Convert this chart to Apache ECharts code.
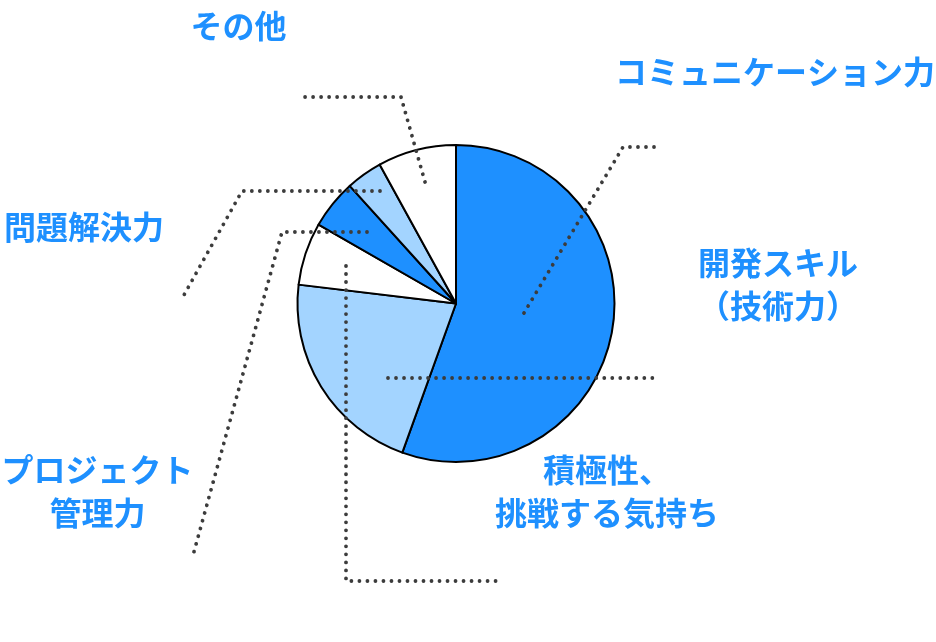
<!DOCTYPE html>
<html>
<head>
<meta charset="utf-8">
<script src="https://cdn.jsdelivr.net/npm/echarts@6/dist/echarts.min.js"></script>
<style>
  html, body { margin: 0; padding: 0; background: #ffffff; }
  #chart { width: 936px; height: 642px; }
</style>
</head>
<body>
<div id="chart"></div>
<script>
// ---- data ----
const categories = [
  'コミュニケーション力',
  '開発スキル\n（技術力）',
  '積極性、\n挑戦する気持ち',
  'プロジェクト\n管理力',
  '問題解決力',
  'その他'
];
const values = [55.5, 21.4, 6.4, 5.0, 3.7, 8.0];

// ---- layout (label centres and leader-line paths, in px) ----
const labelCenters = [
  [775, 72],
  [778, 284],
  [607, 491],
  [97.5, 491],
  [84, 227],
  [238.5, 26]
];
const leaderPaths = [
  [[524, 313], [623, 147], [656, 147]],
  [[388, 378], [400, 378], [655, 378]],
  [[346, 266], [346, 581], [503, 581]],
  [[367, 232], [282, 232], [192, 559]],
  [[380, 191], [242, 191], [184, 295]],
  [[425, 182], [401, 97], [304, 97]]
];

const palette = ['#1e90ff', '#a3d4ff', '#ffffff'];
const pieData = categories.map((name, i) => ({ name: name, value: values[i] }));

const pieBase = {
  type: 'pie',
  center: [456, 303.5],
  radius: 158.5,
  startAngle: 90,
  clockwise: true,
  avoidLabelOverlap: false,
  silent: true,
  data: pieData
};

const chart = echarts.init(document.getElementById('chart'), null, { renderer: 'canvas' });
chart.setOption({
  animation: false,
  color: palette,
  series: [
    Object.assign({}, pieBase, {
      z: 2,
      itemStyle: { borderColor: '#000000', borderWidth: 2 },
      label: { show: false },
      labelLine: { show: false }
    }),
    Object.assign({}, pieBase, {
      z: 5,
      itemStyle: { color: 'rgba(0,0,0,0)', borderWidth: 0 },
      label: {
        show: true,
        position: 'outside',
        color: '#1e90ff',
        fontFamily: "'Noto Sans CJK JP', sans-serif",
        fontWeight: 'bold',
        fontSize: 32,
        lineHeight: 43,
        width: 340,
        overflow: 'none',
        align: 'center'
      },
      labelLine: {
        show: true,
        showAbove: true,
        smooth: false,
        lineStyle: { color: '#3c3c3c', width: 3.8, type: [0.01, 8], cap: 'round' }
      },
      labelLayout: function (params) {
        const i = params.dataIndex;
        return {
          x: labelCenters[i][0],
          y: labelCenters[i][1],
          align: 'center',
          verticalAlign: 'middle',
          labelLinePoints: leaderPaths[i]
        };
      }
    })
  ]
});
</script>
</body>
</html>
